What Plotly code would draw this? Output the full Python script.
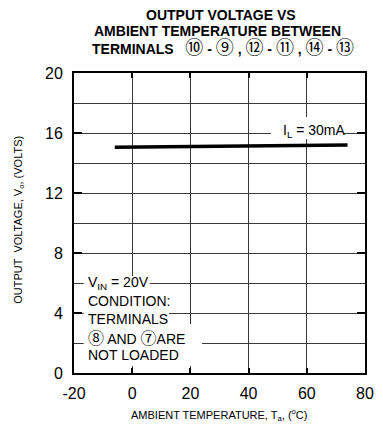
import plotly.graph_objects as go

# ---- data ----
temp_c = [-6, 74]
vout_v = [15.05, 15.2]
x_ticks = [-20, 0, 20, 40, 60, 80]
x_tick_text = ["-20", "0", "20", "40", "60", "80"]
y_ticks = [0, 4, 8, 12, 16, 20]

FONT = "Arial, Liberation Sans, Helvetica, sans-serif"
CJK = "Noto Sans CJK JP"
W, H = 383, 426
L, R, T, B = 74, 9, 73, 53

fig = go.Figure()
fig.add_trace(go.Scatter(x=temp_c, y=vout_v, mode="lines",
                         line=dict(color="black", width=3.5),
                         showlegend=False, hoverinfo="skip"))

axis_common = dict(showline=True, linecolor="black", linewidth=2, mirror="allticks",
                   ticks="inside", tickcolor="black", tickwidth=2,
                   showgrid=True, gridcolor="#3a3a3a", gridwidth=1, zeroline=False,
                   tickfont=dict(family=FONT, size=16, color="black"))

fig.update_xaxes(range=[-20, 80], tickvals=x_ticks, ticktext=x_tick_text, ticklen=5,
                 ticklabelstandoff=5, **axis_common)
fig.update_yaxes(range=[0, 20], tickvals=y_ticks, ticklen=8, ticklabelstandoff=6,
                 minor=dict(dtick=2, showgrid=True, gridcolor="#3a3a3a", gridwidth=1,
                            ticks=""), **axis_common)

def px_to_x(px):
    return (px - L) / 3.0 - 20

def py_to_y(py):
    return (T + 300 - py) / 15.0

def ppx(px):
    return (px - L) / 300.0

def ppy(py):
    return (T + 300 - py) / 300.0

# white masks behind texts
masks = [
    (84, 152, 276, 292),
    (84, 172, 292, 328),
    (84, 206, 324, 366),
    (277, 352, 117, 139),
]
for x0, x1, y0, y1 in masks:
    fig.add_shape(type="rect", xref="x", yref="y",
                  x0=px_to_x(x0), x1=px_to_x(x1), y0=py_to_y(y1), y1=py_to_y(y0),
                  fillcolor="white", line=dict(width=0), layer="above")

def circ(ch, size=17):
    return ('<span style="font-family:\'%s\';font-size:%dpx">%s</span>' % (CJK, size, ch))

# lower-left condition text
cond_lines = ["V<sub>IN</sub> = 20V", "CONDITION:", "TERMINALS",
              circ("⑧", 16) + " AND " + circ("⑦", 16) + "ARE", "NOT LOADED"]
cond_y = [6.0, 4.8, 3.6, 2.4, 1.2]
for txt, yy in zip(cond_lines, cond_y):
    fig.add_annotation(x=px_to_x(86), y=yy, xref="x", yref="y", text=txt,
                       showarrow=False, xanchor="left", yanchor="middle",
                       font=dict(family=FONT, size=14, color="black"))

fig.add_annotation(x=px_to_x(322), y=16.13, xref="x", yref="y", text="I<sub>L</sub> = 30mA",
                   showarrow=False, xanchor="center", yanchor="middle",
                   font=dict(family=FONT, size=14, color="black"))

# title lines
fig.add_annotation(x=ppx(226), y=ppy(15), xref="paper", yref="paper",
                   text="<b>OUTPUT VOLTAGE VS</b>", showarrow=False,
                   xanchor="center", yanchor="middle",
                   font=dict(family=FONT, size=14, color="black"))
fig.add_annotation(x=ppx(222), y=ppy(31), xref="paper", yref="paper",
                   text="<b>AMBIENT TEMPERATURE BETWEEN</b>", showarrow=False,
                   xanchor="center", yanchor="middle",
                   font=dict(family=FONT, size=14, color="black"))

title_pairs = [("⑩", "⑨"), ("⑫", "⑪"), ("⑭", "⑬")]
pair_txt = ["%s<b> - </b>%s" % (circ(a, 18), circ(b, 18)) for a, b in title_pairs]
line3 = "<b>TERMINALS   </b>" + "<b> , </b>".join(pair_txt)
fig.add_annotation(x=ppx(90), y=ppy(46), xref="paper", yref="paper",
                   text=line3, showarrow=False, xanchor="left", yanchor="middle",
                   font=dict(family=FONT, size=14, color="black"))

# axis titles
fig.add_annotation(x=ppx(223), y=ppy(415), xref="paper", yref="paper",
                   text="AMBIENT TEMPERATURE, T<sub>a</sub>, (<sup>o</sup>C)",
                   showarrow=False, xanchor="center", yanchor="middle",
                   font=dict(family=FONT, size=11, color="black"))
fig.add_annotation(x=ppx(17), y=ppy(220), xref="paper", yref="paper",
                   text="OUTPUT  VOLTAGE, V<sub>o</sub>, (VOLTS)", textangle=-90,
                   showarrow=False, xanchor="center", yanchor="middle",
                   font=dict(family=FONT, size=11, color="black"))

fig.update_layout(width=W, height=H, margin=dict(l=L, r=R, t=T, b=B),
                  paper_bgcolor="white", plot_bgcolor="white", showlegend=False)

fig.write_html("out.html")
